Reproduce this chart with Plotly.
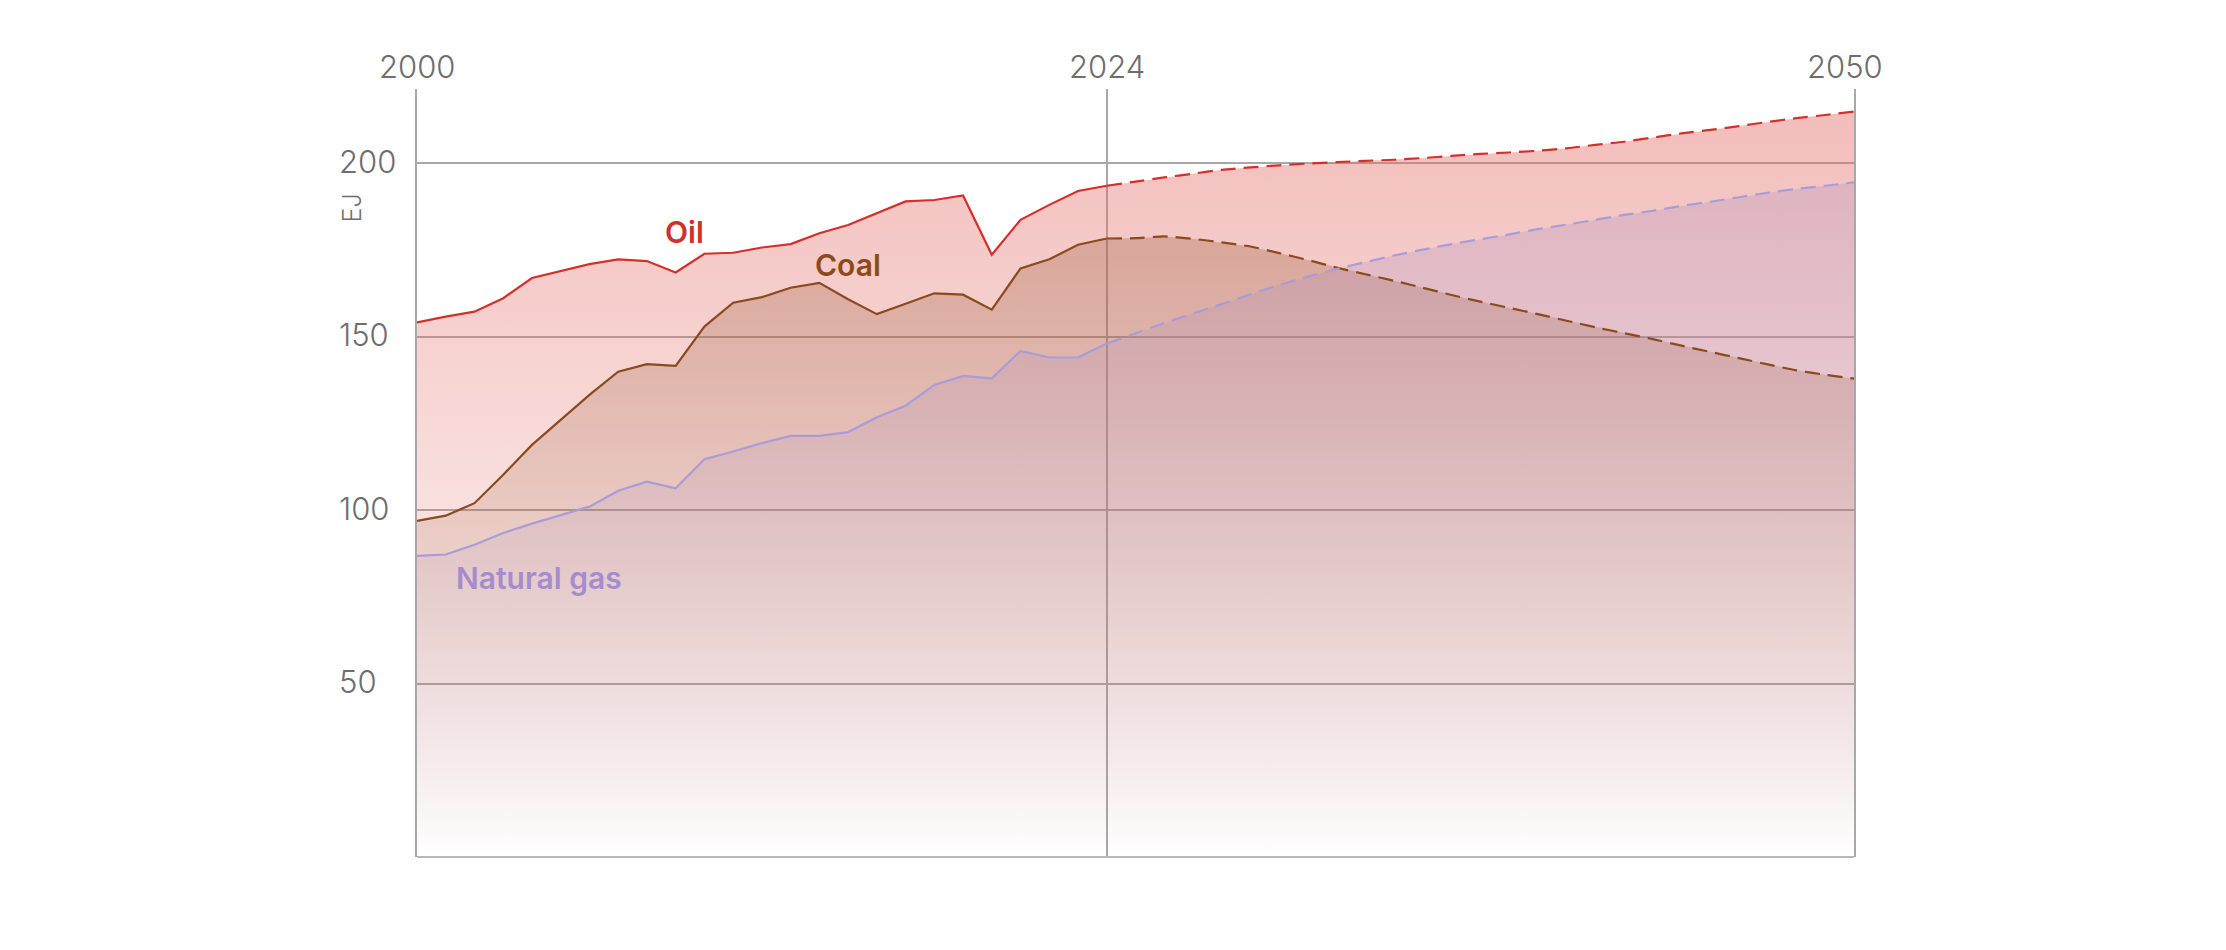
import plotly.graph_objects as go

# ---------------- data ----------------
years_hist = list(range(2000, 2025))
years_proj = list(range(2024, 2051))

oil_hist = [154.1, 155.8, 157.2, 161.1, 166.9, 168.8, 170.9, 172.3, 171.8, 168.5,
            173.9, 174.2, 175.7, 176.7, 179.8, 182.2, 185.6, 189.0, 189.4, 190.7,
            173.6, 183.7, 188.0, 192.0, 193.5]
coal_hist = [96.9, 98.4, 102.0, 110.2, 118.8, 126.0, 133.2, 139.9, 142.1, 141.6,
             152.9, 159.8, 161.4, 164.1, 165.5, 160.8, 156.5, 159.5, 162.5, 162.1,
             157.8, 169.7, 172.3, 176.5, 178.3]
gas_hist = [86.8, 87.2, 90.0, 93.4, 96.1, 98.6, 101.0, 105.6, 108.2, 106.3,
            114.7, 116.9, 119.3, 121.4, 121.4, 122.5, 126.8, 130.1, 136.1, 138.7,
            138.0, 145.9, 144.0, 144.0, 148.0]

oil_proj = [193.5, 194.7, 195.9, 197.0, 198.1, 198.8, 199.4, 199.9, 200.3, 200.7,
            201.0, 201.5, 202.1, 202.7, 203.1, 203.6, 204.3, 205.3, 206.2, 207.4,
            208.6, 209.6, 210.7, 211.9, 213.0, 213.9, 214.9]
coal_proj = [178.3, 178.4, 178.9, 178.2, 177.2, 176.0, 174.1, 172.1, 169.9, 168.0,
             166.1, 164.1, 162.0, 160.1, 158.3, 156.5, 154.6, 152.7, 151.0, 149.3,
             147.4, 145.6, 143.8, 142.0, 140.3, 139.0, 137.9]
gas_proj = [148.0, 151.0, 153.9, 156.7, 159.4, 162.2, 164.9, 167.3, 169.5, 171.5,
            173.4, 175.1, 176.7, 178.1, 179.5, 181.0, 182.3, 183.7, 185.1, 186.3,
            187.7, 188.9, 190.2, 191.5, 192.6, 193.5, 194.5]

x_ticks = [2000, 2024, 2050]
x_tick_labels = ["2000", "2024", "2050"]
y_ticks = [50, 100, 150, 200]
y_tick_labels = ["50", "100", "150", "200"]
unit_label = "EJ"

series_names = ["Oil", "Coal", "Natural gas"]

# ---------------- styles ----------------
FONT = "Inter"
TICK_COLOR = "#6e6e6e"
GRID_COLOR = "#a8a8a8"
Y_TOP = 221.4

line_colors = {"Oil": "#d4302b", "Coal": "#8a4a1e", "Natural gas": "#a99cd8"}
label_colors = {"Oil": "#d0302a", "Coal": "#8b4a1c", "Natural gas": "#a58ccf"}
fill_rgb = {"Oil": (226, 108, 102), "Coal": (150, 82, 45), "Natural gas": (172, 142, 190)}
fill_alpha = {"Oil": 0.46, "Coal": 0.36, "Natural gas": 0.34}

hist = {"Oil": oil_hist, "Coal": coal_hist, "Natural gas": gas_hist}
proj = {"Oil": oil_proj, "Coal": coal_proj, "Natural gas": gas_proj}

fig = go.Figure()

# gradient fills (full period)
for name in series_names:
    r, g, b = fill_rgb[name]
    a = fill_alpha[name]
    fig.add_trace(go.Scatter(
        x=years_hist + years_proj[1:],
        y=hist[name] + proj[name][1:],
        mode="lines",
        line=dict(width=0, color="rgba(0,0,0,0)"),
        fill="tozeroy",
        fillgradient=dict(
            type="vertical", start=0, stop=Y_TOP,
            colorscale=[[0, f"rgba({r},{g},{b},0)"], [1, f"rgba({r},{g},{b},{a})"]],
        ),
        hoverinfo="skip",
        showlegend=False,
    ))

# lines: historical solid, projection dashed
for name in series_names:
    fig.add_trace(go.Scatter(
        x=years_hist, y=hist[name], mode="lines",
        line=dict(color=line_colors[name], width=2.2),
        name=name, showlegend=False,
    ))
    fig.add_trace(go.Scatter(
        x=years_proj, y=proj[name], mode="lines",
        line=dict(color=line_colors[name], width=2.2, dash="15px,8px", shape="spline", smoothing=0.6),
        name=name + " (projection)", showlegend=False,
    ))

# series labels
label_pos = {"Oil": (2009.3, 180.2, "center"),
             "Coal": (2015.0, 170.7, "center"),
             "Natural gas": (2001.3, 80.5, "left")}
for name in series_names:
    lx, ly, anc = label_pos[name]
    fig.add_annotation(
        x=lx, y=ly, text=name, showarrow=False, xanchor=anc, yanchor="middle",
        font=dict(family=FONT, size=30, color=label_colors[name], weight=600),
    )

# x tick labels on top (the last one is nudged inwards, as in the original)
x_label_shift = [0, 0, -9]
for v, t, s in zip(x_ticks, x_tick_labels, x_label_shift):
    fig.add_annotation(
        x=v, xref="x", y=1, yref="y domain", text=t, showarrow=False,
        xanchor="center", yanchor="bottom", yshift=2, xshift=s,
        font=dict(family=FONT, size=31, color=TICK_COLOR, weight=300),
    )

# y tick labels (left aligned)
for v, t in zip(y_ticks, y_tick_labels):
    fig.add_annotation(
        x=-0.0557, xref="x domain", y=v, yref="y", text=t, showarrow=False,
        xanchor="left", yanchor="middle", yshift=2,
        font=dict(family=FONT, size=31, color=TICK_COLOR, weight=300),
    )

# unit label
fig.add_annotation(
    x=-0.0452, xref="x domain", y=187, yref="y",
    text=unit_label, showarrow=False, textangle=-90,
    xanchor="center", yanchor="middle",
    font=dict(family=FONT, size=25, color=TICK_COLOR, weight=300),
)

# page body has an 8px margin, so the figure is 16px smaller than the window
fig.update_layout(
    width=2210, height=934,
    margin=dict(l=409, r=364, t=81, b=85, pad=0),
    plot_bgcolor="white", paper_bgcolor="white",
    xaxis=dict(
        range=[2000, 2050], side="top",
        tickmode="array", tickvals=x_ticks, showticklabels=False,
        showgrid=True, gridcolor=GRID_COLOR, gridwidth=1.5,
        showline=False, zeroline=False, ticks="",
    ),
    yaxis=dict(
        range=[0, Y_TOP],
        tickmode="array", tickvals=y_ticks, showticklabels=False,
        showgrid=True, gridcolor=GRID_COLOR, gridwidth=1.5,
        zeroline=True, zerolinecolor="#b8b8b8", zerolinewidth=2,
        showline=True, linecolor=GRID_COLOR, linewidth=1.5, mirror=True,
        ticks="",
    ),
    hovermode=False,
)

fig.write_html("out.html")
